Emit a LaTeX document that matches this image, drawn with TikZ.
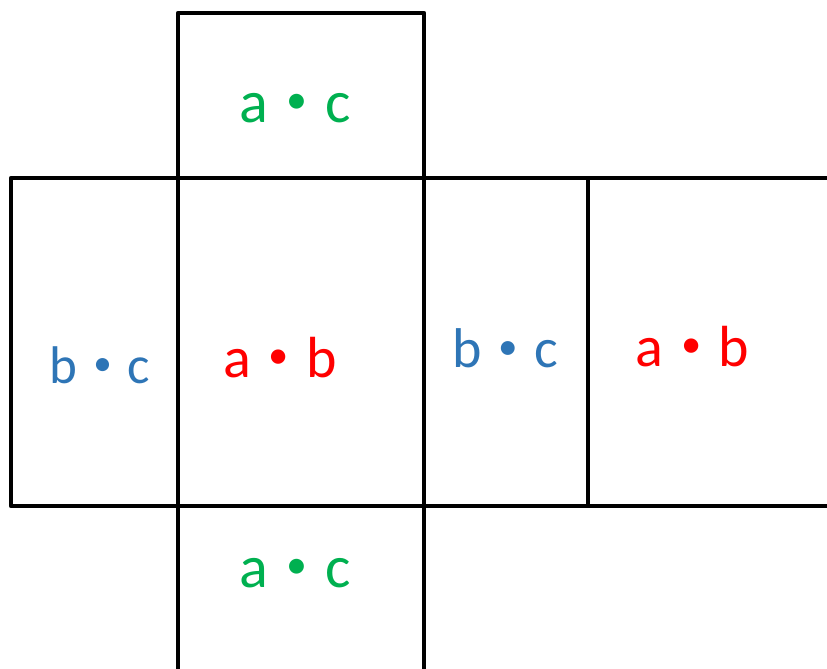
\documentclass[tikz,border=0pt]{standalone}
\usepackage{fontspec}
\usepackage{graphicx}
\setmainfont{Carlito}
\definecolor{offgreen}{HTML}{00B050}
\definecolor{offblue}{HTML}{2E75B6}
\definecolor{offred}{HTML}{FF0000}
\newcommand\mydot{\hspace{0.3em}\raisebox{0.14em}{\scalebox{0.7}{•}}\hspace{0.3em}}
\begin{document}
\begin{tikzpicture}[x=1pt,y=-1pt,
  edge/.style={draw=black,line width=4.8pt,line join=round},
  lbl/.style={inner sep=0pt,anchor=base},
  gtxt/.style={lbl,text=offgreen,font=\fontsize{60}{60}\selectfont},
  rtxt/.style={lbl,text=offred,font=\fontsize{58}{58}\selectfont},
  btxt/.style={lbl,text=offblue,font=\fontsize{54}{54}\selectfont}]
\useasboundingbox (0,0) rectangle (827,669);
% faces
\draw[edge] (178,178) -- (178,13) -- (424,13) -- (424,178);
\draw[edge] (827,178) -- (11,178) -- (11,506) -- (827,506);
\draw[edge] (178,178) -- (178,669);
\draw[edge] (424,178) -- (424,669);
\draw[edge] (588,178) -- (588,506);
% labels
\node[gtxt] (topface) at (295.5,122) {a\mydot c};
\node[gtxt] (botface) at (295.5,587) {a\mydot c};
\node[btxt,font=\fontsize{53}{53}\selectfont] (leftface) at (100,383) {b\mydot c};
\node[rtxt] (frontface) at (280,377) {a\mydot b};
\node[btxt,font=\fontsize{56}{56}\selectfont] (sideface) at (505.5,367) {b\mydot c};
\node[rtxt] (backface) at (692.5,366) {a\mydot b};
\end{tikzpicture}
\end{document}
